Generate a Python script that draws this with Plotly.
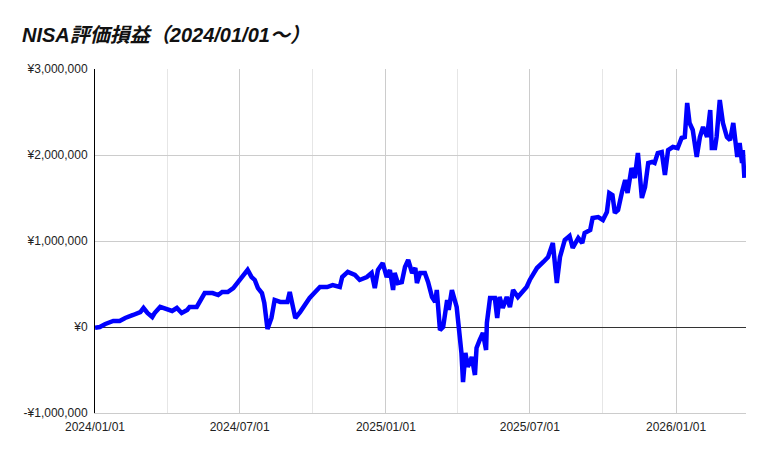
import plotly.graph_objects as go

dates = [
    "2024-01-01", "2024-01-07", "2024-01-14", "2024-01-24", "2024-02-01", "2024-02-08",
    "2024-02-18", "2024-02-27", "2024-03-02", "2024-03-07", "2024-03-13", "2024-03-16",
    "2024-03-23", "2024-04-01", "2024-04-07", "2024-04-13", "2024-04-19", "2024-04-26",
    "2024-04-29", "2024-05-08", "2024-05-15", "2024-05-18", "2024-05-28", "2024-06-04",
    "2024-06-09", "2024-06-16", "2024-06-23", "2024-06-29", "2024-07-05", "2024-07-11",
    "2024-07-16", "2024-07-20", "2024-07-24", "2024-07-29", "2024-08-01", "2024-08-03",
    "2024-08-05", "2024-08-10", "2024-08-14", "2024-08-21", "2024-08-30", "2024-09-02",
    "2024-09-06", "2024-09-09", "2024-09-15", "2024-09-21", "2024-09-27", "2024-10-04",
    "2024-10-10", "2024-10-19", "2024-10-26", "2024-11-04", "2024-11-07", "2024-11-14",
    "2024-11-23", "2024-11-29", "2024-12-08", "2024-12-14", "2024-12-18", "2024-12-22",
    "2024-12-28", "2025-01-02", "2025-01-06", "2025-01-10", "2025-01-12", "2025-01-16",
    "2025-01-21", "2025-01-25", "2025-01-29", "2025-02-03", "2025-02-07", "2025-02-09",
    "2025-02-13", "2025-02-19", "2025-02-23", "2025-02-28", "2025-03-04", "2025-03-06",
    "2025-03-10", "2025-03-14", "2025-03-19", "2025-03-21", "2025-03-25", "2025-03-31",
    "2025-04-03", "2025-04-06", "2025-04-08", "2025-04-11", "2025-04-14", "2025-04-19",
    "2025-04-23", "2025-04-25", "2025-04-29", "2025-05-03", "2025-05-07", "2025-05-08",
    "2025-05-12", "2025-05-18", "2025-05-21", "2025-05-24", "2025-05-28", "2025-06-02",
    "2025-06-06", "2025-06-10", "2025-06-16", "2025-06-22", "2025-06-27", "2025-07-01",
    "2025-07-10", "2025-07-18", "2025-07-24", "2025-07-30", "2025-08-04", "2025-08-08",
    "2025-08-14", "2025-08-20", "2025-08-24", "2025-08-31", "2025-09-05", "2025-09-08",
    "2025-09-15", "2025-09-18", "2025-09-25", "2025-10-01", "2025-10-06", "2025-10-09",
    "2025-10-13", "2025-10-16", "2025-10-20", "2025-10-25", "2025-10-29", "2025-11-01",
    "2025-11-06", "2025-11-10", "2025-11-14", "2025-11-19", "2025-11-23", "2025-11-27",
    "2025-12-02", "2025-12-05", "2025-12-09", "2025-12-14", "2025-12-18", "2025-12-22",
    "2025-12-28", "2026-01-03", "2026-01-08", "2026-01-12", "2026-01-15", "2026-01-18",
    "2026-01-22", "2026-01-27", "2026-01-31", "2026-02-04", "2026-02-09", "2026-02-13",
    "2026-02-15", "2026-02-19", "2026-02-21", "2026-02-25", "2026-03-01", "2026-03-06",
    "2026-03-10", "2026-03-14", "2026-03-19", "2026-03-22", "2026-03-25", "2026-03-26",
    "2026-03-28",
]

values = [
    -10000, 0, 35000, 70000, 70000, 105000,
    140000, 174000, 221000, 163000, 116000, 163000,
    233000, 198000, 186000, 221000, 163000, 198000,
    233000, 233000, 349000, 395000, 395000, 372000,
    407000, 407000, 453000, 523000, 605000, 665000,
    581000, 547000, 453000, 395000, 279000, 163000,
    -23000, 105000, 314000, 291000, 291000, 407000,
    221000, 105000, 174000, 256000, 337000, 407000,
    465000, 465000, 488000, 465000, 581000, 640000,
    605000, 547000, 581000, 628000, 453000, 663000,
    744000, 581000, 663000, 430000, 628000, 512000,
    523000, 698000, 779000, 628000, 686000, 512000,
    628000, 628000, 523000, 349000, 291000, 430000,
    -35000, 0, 314000, 198000, 430000, 233000,
    -35000, -302000, -640000, -302000, -465000, -349000,
    -558000, -244000, -151000, -70000, -267000, 47000,
    337000, 337000, 105000, 349000, 221000, 349000,
    233000, 430000, 349000, 407000, 465000, 547000,
    686000, 756000, 814000, 977000, 512000, 814000,
    1012000, 1058000, 919000, 1035000, 977000, 1093000,
    1128000, 1267000, 1279000, 1244000, 1337000, 1558000,
    1535000, 1326000, 1360000, 1570000, 1709000, 1558000,
    1849000, 1733000, 2023000, 1500000, 1628000, 1907000,
    1919000, 1907000, 2023000, 2035000, 1767000, 2058000,
    2093000, 2081000, 2198000, 2209000, 2605000, 2372000,
    2291000, 1977000, 2209000, 2326000, 2209000, 2523000,
    2081000, 2081000, 2209000, 2640000, 2372000, 2209000,
    2174000, 2372000, 1977000, 2140000, 1907000, 2058000,
    1733000,
]

y_tick_vals = [-1000000, 0, 1000000, 2000000, 3000000]
y_tick_text = ["-¥1,000,000", "¥0", "¥1,000,000", "¥2,000,000", "¥3,000,000"]
x_tick_vals = ["2024-01-01", "2024-07-01", "2025-01-01", "2025-07-01", "2026-01-01"]
x_tick_text = ["2024/01/01", "2024/07/01", "2025/01/01", "2025/07/01", "2026/01/01"]
x_minor_vals = ["2024-04-01", "2024-10-01", "2025-04-01", "2025-10-01"]

fig = go.Figure()
fig.add_trace(go.Scatter(
    x=dates, y=values, mode="lines",
    line=dict(color="#0000ff", width=4.5),
    showlegend=False,
))

fig.update_layout(
    width=769, height=457,
    margin=dict(l=87, r=31, t=61, b=52),
    paper_bgcolor="white", plot_bgcolor="white",
    title=dict(
        text="<b><i>NISA評価損益（2024/01/01～）</i></b>",
        font=dict(family="Liberation Sans, Noto Sans CJK JP", size=20, color="#111111"),
        x=14 / 769, xref="container", xanchor="left",
        y=1 - 27 / 457, yref="container", yanchor="middle",
    ),
    font=dict(family="Liberation Sans, Arial", size=12, color="#222222"),
)

fig.update_xaxes(
    type="date",
    range=["2024-01-01", "2026-03-30"],
    tickmode="array", tickvals=x_tick_vals, ticktext=x_tick_text,
    tickfont=dict(family="Liberation Sans, Arial", size=12, color="#222222"),
    showgrid=True, gridcolor="#cccccc", gridwidth=1,
    minor=dict(tickmode="array", tickvals=x_minor_vals, showgrid=True, gridcolor="#e6e6e6", gridwidth=1),
    showline=True, linecolor="#cccccc", linewidth=1,
    ticks="", zeroline=False, ticklabelstandoff=3,
)

fig.update_yaxes(
    range=[-1000000, 3000000],
    tickmode="array", tickvals=y_tick_vals, ticktext=y_tick_text,
    tickfont=dict(family="Liberation Sans, Arial", size=12, color="#222222"),
    showgrid=True, gridcolor="#cccccc", gridwidth=1,
    zeroline=True, zerolinecolor="#333333", zerolinewidth=1,
    showline=True, linecolor="#000000", linewidth=1,
    ticks="", ticklabelstandoff=4,
)

fig.write_html("out.html")
